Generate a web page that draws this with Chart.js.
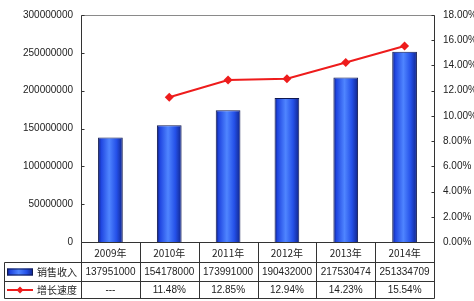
<!DOCTYPE html>
<html>
<head>
<meta charset="utf-8">
<script src="https://cdn.jsdelivr.net/npm/chart.js@4"></script>
<style>
html,body{margin:0;padding:0;background:#fff;}
#wrap{width:474px;height:301px;position:relative;}
</style>
</head>
<body>
<div id="wrap"><canvas id="c" width="474" height="301"></canvas></div>
<script>
const categories = ['2009年', '2010年', '2011年', '2012年', '2013年', '2014年'];
const salesRevenue = [137951000, 154178000, 173991000, 190432000, 217530474, 251334709];
const growthRate = [null, 11.48, 12.85, 12.94, 14.23, 15.54];
const seriesNames = ['销售收入', '增长速度'];
const leftAxisMax = 300000000;
const leftAxisStep = 50000000;
const rightAxisMax = 18;
const rightAxisStep = 2;

const LATIN = "'Liberation Sans', Arial, sans-serif";
const CJK = "'Noto Sans CJK SC', 'Liberation Sans', sans-serif";
const GRID = '#333';
const TEXT = '#222';

function growthText(v) { return v === null ? '---' : v.toFixed(2) + '%'; }

function barGradient(ctx, x0, x1) {
  const g = ctx.createLinearGradient(x0, 0, x1, 0);
  g.addColorStop(0, '#0c1a70');
  g.addColorStop(0.12, '#1f45e0');
  g.addColorStop(0.45, '#4f85ff');
  g.addColorStop(0.75, '#2450e8');
  g.addColorStop(1, '#10248a');
  return g;
}

const gradientPlugin = {
  id: 'barGradient',
  beforeDatasetsDraw(chart) {
    const ctx = chart.ctx;
    const meta = chart.getDatasetMeta(1);
    meta.data.forEach(el => {
      const p = el.getProps(['x', 'width'], true);
      if (!isFinite(p.x) || !isFinite(p.width)) return;
      const half = p.width / 2;
      el.options = Object.assign({}, el.options, { backgroundColor: barGradient(ctx, p.x - half, p.x + half) });
    });
  }
};

const framePlugin = {
  id: 'frameTable',
  afterDraw(chart) {
    const ctx = chart.ctx;
    const a = chart.chartArea;
    const y = chart.scales.y, y1 = chart.scales.y1, x = chart.scales.x;
    const L = Math.round(a.left) + 0.5, R = Math.round(a.right) + 0.5;
    const T = Math.round(a.top) + 0.5, B = Math.round(a.bottom) + 0.5;
    ctx.save();
    ctx.strokeStyle = '#8a8a8a'; ctx.lineWidth = 1;
    ctx.beginPath(); ctx.moveTo(L, T); ctx.lineTo(R, T); ctx.stroke();
    ctx.strokeStyle = '#333';
    ctx.beginPath(); ctx.moveTo(L, T); ctx.lineTo(L, B); ctx.moveTo(R, T); ctx.lineTo(R, B); ctx.stroke();
    ctx.beginPath();
    y.ticks.forEach(t => { const p = Math.round(y.getPixelForValue(t.value)) + 0.5; ctx.moveTo(L, p); ctx.lineTo(L + 3, p); });
    y1.ticks.forEach(t => { const p = Math.round(y1.getPixelForValue(t.value)) + 0.5; ctx.moveTo(R, p); ctx.lineTo(R - 3, p); });
    ctx.stroke();

    const rowTop = B, row1 = B + 20, row2 = B + 39, row3 = B + 56;
    const tableLeft = 4.5;
    const n = categories.length;
    const edges = [];
    for (let i = 0; i <= n; i++) {
      edges.push(Math.round(a.left + (a.right - a.left) * i / n) + 0.5);
    }
    ctx.strokeStyle = GRID;
    ctx.beginPath();
    ctx.moveTo(L, rowTop); ctx.lineTo(R, rowTop);
    ctx.moveTo(tableLeft, row1); ctx.lineTo(R, row1);
    ctx.moveTo(tableLeft, row2); ctx.lineTo(R, row2);
    ctx.moveTo(tableLeft, row3); ctx.lineTo(R, row3);
    ctx.moveTo(tableLeft, row1); ctx.lineTo(tableLeft, row3);
    edges.forEach(e => { ctx.moveTo(e, rowTop); ctx.lineTo(e, row3); });
    ctx.stroke();

    ctx.fillStyle = TEXT;
    ctx.textAlign = 'center'; ctx.textBaseline = 'middle';
    categories.forEach((c, i) => {
      const cx = x.getPixelForValue(i);
      ctx.font = '10px ' + CJK;
      ctx.fillText(c, cx, (rowTop + row1) / 2 + 0.5);
      ctx.font = '10px ' + LATIN;
      ctx.fillText(String(salesRevenue[i]), cx, (row1 + row2) / 2 + 0.5);
      ctx.fillText(growthText(growthRate[i]), cx, (row2 + row3) / 2 + 0.5);
    });

    const k1 = (row1 + row2) / 2, k2 = (row2 + row3) / 2;
    ctx.fillStyle = barGradient(ctx, 7, 33);
    ctx.fillRect(7, k1 - 3.5, 26, 7);
    ctx.strokeStyle = '#101a50'; ctx.strokeRect(7.5, k1 - 3, 25, 6);
    ctx.strokeStyle = '#ee1c1c'; ctx.lineWidth = 2;
    ctx.beginPath(); ctx.moveTo(7, k2); ctx.lineTo(33, k2); ctx.stroke();
    ctx.fillStyle = '#ee1c1c';
    ctx.beginPath(); ctx.moveTo(20, k2 - 3.5); ctx.lineTo(23.5, k2); ctx.lineTo(20, k2 + 3.5); ctx.lineTo(16.5, k2); ctx.closePath(); ctx.fill();
    ctx.fillStyle = TEXT;
    ctx.font = '10px ' + CJK; ctx.textAlign = 'left';
    ctx.fillText(seriesNames[0], 37, k1 + 0.5);
    ctx.fillText(seriesNames[1], 37, k2 + 0.5);
    ctx.restore();
  }
};

new Chart(document.getElementById('c'), {
  data: {
    labels: categories,
    datasets: [
      {
        type: 'line', label: seriesNames[1], data: growthRate, yAxisID: 'y1', order: 0,
        borderColor: '#ee1c1c', backgroundColor: '#ee1c1c', borderWidth: 2,
        pointStyle: 'rectRot', pointRadius: 4.5, pointBorderWidth: 0, spanGaps: false, tension: 0
      },
      {
        type: 'bar', label: seriesNames[0], data: salesRevenue, yAxisID: 'y', order: 1,
        backgroundColor: '#3558e0', borderColor: '#0f1850', borderWidth: 1,
        categoryPercentage: 0.42, barPercentage: 1
      }
    ]
  },
  plugins: [gradientPlugin, framePlugin],
  options: {
    responsive: false, animation: false, devicePixelRatio: 1,
    layout: { padding: { top: 13, bottom: 59, left: 0, right: 0 } },
    plugins: { legend: { display: false }, tooltip: { enabled: false } },
    scales: {
      x: { display: false, offset: true, grid: { display: false } },
      y: {
        position: 'left', min: 0, max: leftAxisMax,
        border: { display: false }, grid: { display: false, drawTicks: false },
        afterFit(s) { s.width = 81; },
        ticks: { stepSize: leftAxisStep, padding: 8, color: TEXT, font: { family: LATIN, size: 10 },
                 callback: v => String(v) }
      },
      y1: {
        position: 'right', min: 0, max: rightAxisMax,
        border: { display: false }, grid: { display: false, drawTicks: false },
        afterFit(s) { s.width = 40; },
        ticks: { stepSize: rightAxisStep, padding: 9, color: TEXT, font: { family: LATIN, size: 10 },
                 callback: v => v.toFixed(2) + '%' }
      }
    }
  }
});
</script>
</body>
</html>
